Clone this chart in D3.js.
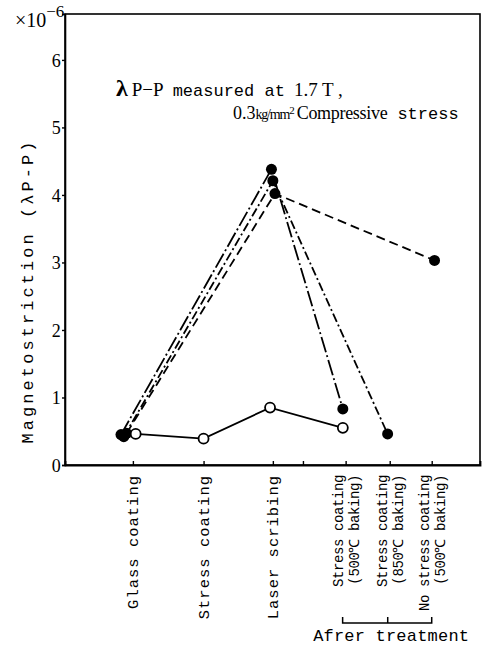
<!DOCTYPE html>
<html>
<head>
<meta charset="utf-8">
<script src="https://cdn.jsdelivr.net/npm/d3@7"></script>
<style>
  body { margin: 0; background: #fff; }
  svg { display: block; }
</style>
</head>
<body>
<div id="chart"></div>
<script>
// process stages along the x axis (position in stage units)
const stages = [
  ["Glass coating"],
  ["Stress coating"],
  ["Laser scribing"],
  ["Stress coating", "(500℃ baking)"],
  ["Stress coating", "(850℃ baking)"],
  ["No stress coating", "(500℃ baking)"]
];
const stagePos = [0, 1.01, 2, 3.04, 3.67, 4.27];
const minorTicks = [2.43];

const yTicks = [0, 1, 2, 3, 4, 5, 6];

// filled markers, three specimens
const seriesA_x = [-0.17, 1.98, 3.0];
const seriesA_y = [0.45, 4.38, 0.83];
const seriesB_x = [-0.13, 2.0, 3.64];
const seriesB_y = [0.42, 4.21, 0.46];
const seriesC_x = [-0.09, 2.03, 4.31];
const seriesC_y = [0.47, 4.02, 3.03];
// open markers
const seriesD_x = [0.04, 1.01, 1.96, 3.0];
const seriesD_y = [0.46, 0.39, 0.85, 0.55];

const width = 483, height = 645;
const margin = {top: 14, right: 3, bottom: 180, left: 65};

const svg = d3.select("#chart")
  .append("svg")
  .attr("width", width)
  .attr("height", height);

const x = d3.scaleLinear()
  .domain([-0.97, 4.96])
  .range([margin.left, width - margin.right]);

const y = d3.scaleLinear()
  .domain([0, 6.68])
  .range([height - margin.bottom, margin.top]);

const serif = "'Liberation Serif', 'DejaVu Serif', serif";
const mono = "'Liberation Mono', 'DejaVu Sans Mono', monospace";

// frame
svg.append("rect")
  .attr("x", x.range()[0])
  .attr("y", y.range()[1])
  .attr("width", x.range()[1] - x.range()[0])
  .attr("height", y.range()[0] - y.range()[1])
  .attr("fill", "none")
  .attr("stroke", "#000")
  .attr("stroke-width", 1.6);

// y axis
const yAxis = svg.append("g")
  .attr("transform", `translate(${margin.left},0)`)
  .call(d3.axisLeft(y).tickValues(yTicks).tickSize(3).tickFormat(d3.format("d")));
yAxis.select(".domain").attr("stroke-width", 1.6);
yAxis.selectAll("text")
  .attr("font-family", serif)
  .attr("font-size", 18)
  .attr("dx", "0.1em")
  .attr("dy", "0.35em");
yAxis.selectAll("line").attr("stroke-width", 1.4);

// x axis (ticks pointing inward)
const xAxis = svg.append("g")
  .attr("transform", `translate(0,${height - margin.bottom})`)
  .call(d3.axisTop(x).tickValues(stagePos.concat(minorTicks)).tickSize(4).tickFormat(""));
xAxis.select(".domain").attr("stroke-width", 1.8);
xAxis.selectAll("line").attr("stroke-width", 1.4);

// x category labels, rotated
const labelTop = height - margin.bottom + 10;
stages.forEach((lines, i) => {
  const n = lines.length;
  lines.forEach((t, j) => {
    const off = (j - (n - 1) / 2) * 16;
    svg.append("text")
      .attr("transform", `translate(${x(stagePos[i]) + off + 5},${labelTop}) rotate(-90)`)
      .attr("text-anchor", "end")
      .attr("font-family", mono)
      .attr("font-size", n > 1 ? 14 : 15.5)
      .attr("letter-spacing", n > 1 ? -0.4 : 1.0)
      .text(t);
  });
});

// bracket for after-treatment
const bracketY = 623;
const bx0 = x(stagePos[3]) - 3, bx1 = x(stagePos[5]);
svg.append("path")
  .attr("d", `M${bx0},${bracketY - 6}V${bracketY}H${bx1}V${bracketY - 6}M${x(stagePos[4]) - 2},${bracketY}V${bracketY - 6}`)
  .attr("fill", "none")
  .attr("stroke", "#000")
  .attr("stroke-width", 1.5);
svg.append("text")
  .attr("x", (bx0 + bx1) / 2 + 4)
  .attr("y", 641)
  .attr("text-anchor", "middle")
  .attr("font-family", mono)
  .attr("font-size", 17)
  .attr("letter-spacing", 0.2)
  .text("Afrer treatment");

// unit
const unit = svg.append("text")
  .attr("x", 15)
  .attr("y", 27)
  .attr("font-family", serif)
  .attr("font-size", 20);
unit.append("tspan").text("×10");
unit.append("tspan").attr("dy", -10).attr("font-size", 17).text("−6");

// y axis title
svg.append("text")
  .attr("transform", `translate(33,${(y(0) + y(6)) / 2 + 30}) rotate(-90)`)
  .attr("text-anchor", "middle")
  .attr("font-family", mono)
  .attr("font-size", 17)
  .attr("textLength", 302)
  .attr("lengthAdjust", "spacing")
  .text("Magnetostriction (λP-P)");

// annotation
const note1 = svg.append("text")
  .attr("x", 116)
  .attr("y", 96)
  .attr("font-family", serif)
  .attr("font-size", 19);
note1.append("tspan").attr("font-size", 24).attr("font-weight", "bold").text("λ");
note1.append("tspan").attr("dx", 4).text("P−P");
note1.append("tspan").attr("font-family", mono).attr("font-size", 17).attr("dx", 9).text("measured at");
note1.append("tspan").attr("dx", 9).text("1.7 T ,");

const note2 = svg.append("text")
  .attr("x", 233)
  .attr("y", 119)
  .attr("font-family", serif)
  .attr("font-size", 18);
note2.append("tspan").text("0.3");
note2.append("tspan").attr("font-size", 14).attr("letter-spacing", -1.2).text("kg/mm");
note2.append("tspan").attr("font-size", 11).attr("dy", -5).text("2");
note2.append("tspan").attr("dy", 5).attr("dx", 2).attr("letter-spacing", -0.3).text("Compressive");
note2.append("tspan").attr("font-family", mono).attr("font-size", 17).attr("dx", 10).text("stress");

// series lines and markers
const series = [
  {xs: seriesA_x, ys: seriesA_y, dash: "16,3,2,3", filled: true},
  {xs: seriesB_x, ys: seriesB_y, dash: "9,3,2,3", filled: true},
  {xs: seriesC_x, ys: seriesC_y, dash: "9,5", filled: true},
  {xs: seriesD_x, ys: seriesD_y, dash: null, filled: false}
];

const line = d3.line().x(d => x(d[0])).y(d => y(d[1]));

series.forEach(s => {
  const pts = s.xs.map((v, i) => [v, s.ys[i]]);
  svg.append("path")
    .datum(pts)
    .attr("d", line)
    .attr("fill", "none")
    .attr("stroke", "#000")
    .attr("stroke-width", 1.8)
    .attr("stroke-dasharray", s.dash);
});

series.forEach(s => {
  const pts = s.xs.map((v, i) => [v, s.ys[i]]);
  svg.selectAll(null)
    .data(pts)
    .enter()
    .append("circle")
      .attr("cx", d => x(d[0]))
      .attr("cy", d => y(d[1]))
      .attr("r", s.filled ? 5.5 : 5)
      .attr("fill", s.filled ? "#000" : "#fff")
      .attr("stroke", "#000")
      .attr("stroke-width", s.filled ? 0 : 1.8);
});
</script>
</body>
</html>
